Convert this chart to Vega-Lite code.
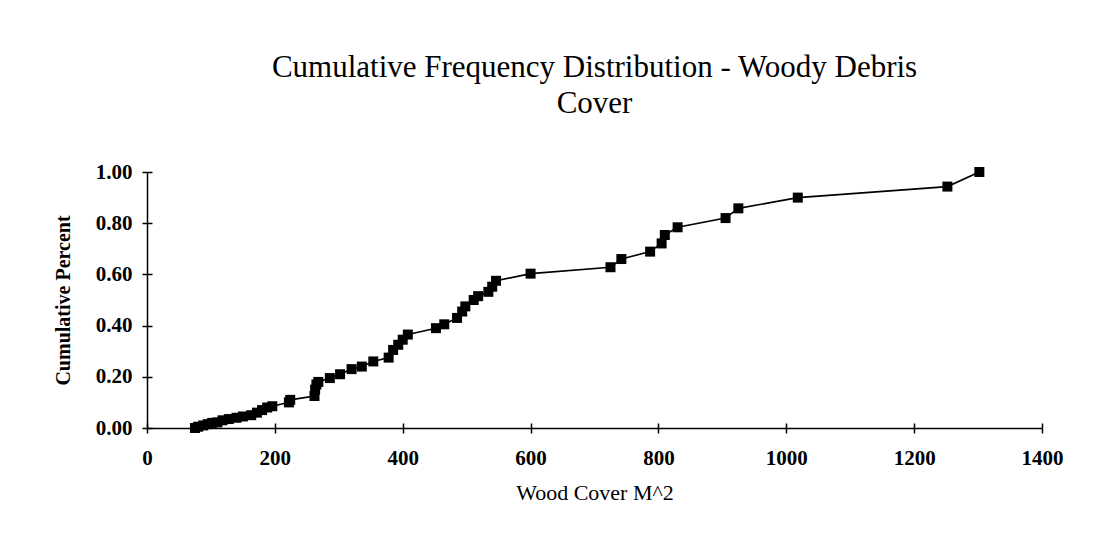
{
  "$schema": "https://vega.github.io/schema/vega-lite/v6.json",
  "width": 895,
  "height": 256,
  "autosize": {"type": "none"},
  "padding": {"left": 147, "top": 172, "right": 77, "bottom": 111},
  "background": "white",
  "title": {
    "text": ["Cumulative Frequency Distribution - Woody Debris", "Cover"],
    "font": "Liberation Serif",
    "fontSize": 31,
    "fontWeight": "normal",
    "color": "black",
    "anchor": "middle",
    "frame": "group",
    "lineHeight": 36,
    "offset": 41
  },
  "data": {
    "values": [
      {"cover": 75, "pct": 0.0},
      {"cover": 80, "pct": 0.005},
      {"cover": 88, "pct": 0.01},
      {"cover": 95, "pct": 0.015},
      {"cover": 102, "pct": 0.02},
      {"cover": 110, "pct": 0.022},
      {"cover": 118, "pct": 0.03},
      {"cover": 128, "pct": 0.035},
      {"cover": 140, "pct": 0.04},
      {"cover": 150, "pct": 0.045},
      {"cover": 163, "pct": 0.05},
      {"cover": 172, "pct": 0.06},
      {"cover": 180, "pct": 0.07},
      {"cover": 188, "pct": 0.08},
      {"cover": 196, "pct": 0.085},
      {"cover": 222, "pct": 0.1},
      {"cover": 224, "pct": 0.11},
      {"cover": 262, "pct": 0.125},
      {"cover": 263, "pct": 0.15},
      {"cover": 265, "pct": 0.17},
      {"cover": 268, "pct": 0.18},
      {"cover": 286, "pct": 0.195},
      {"cover": 302, "pct": 0.21},
      {"cover": 320, "pct": 0.23},
      {"cover": 336, "pct": 0.24},
      {"cover": 354, "pct": 0.26},
      {"cover": 378, "pct": 0.275},
      {"cover": 385, "pct": 0.305},
      {"cover": 393, "pct": 0.325},
      {"cover": 400, "pct": 0.345},
      {"cover": 408, "pct": 0.365},
      {"cover": 452, "pct": 0.39},
      {"cover": 465, "pct": 0.405},
      {"cover": 485, "pct": 0.43},
      {"cover": 493, "pct": 0.455},
      {"cover": 498, "pct": 0.475},
      {"cover": 511, "pct": 0.5},
      {"cover": 518, "pct": 0.515},
      {"cover": 534, "pct": 0.532},
      {"cover": 540, "pct": 0.552},
      {"cover": 546, "pct": 0.575},
      {"cover": 600, "pct": 0.603},
      {"cover": 725, "pct": 0.628},
      {"cover": 742, "pct": 0.66},
      {"cover": 787, "pct": 0.689},
      {"cover": 805, "pct": 0.721},
      {"cover": 810, "pct": 0.754},
      {"cover": 830, "pct": 0.784},
      {"cover": 905, "pct": 0.82},
      {"cover": 925, "pct": 0.858},
      {"cover": 1018, "pct": 0.9},
      {"cover": 1252, "pct": 0.943},
      {"cover": 1302, "pct": 1.0}
    ]
  },
  "layer": [
    {
      "mark": {"type": "line", "color": "black", "strokeWidth": 1.6},
      "encoding": {
        "x": {
          "field": "cover",
          "type": "quantitative",
          "scale": {"domain": [0, 1400], "nice": false},
          "axis": {
            "title": "Wood Cover M^2",
            "values": [0, 200, 400, 600, 800, 1000, 1200, 1400],
            "format": "d",
            "grid": false,
            "labelFont": "Liberation Serif",
            "labelFontSize": 21,
            "labelFontWeight": "bold",
            "labelColor": "black",
            "labelPadding": 14,
            "labelFlush": false,
            "labelOverlap": false,
            "tickSize": 5,
            "tickColor": "black",
            "tickWidth": 1.5,
            "domainColor": "black",
            "domainWidth": 1.5,
            "titleFont": "Liberation Serif",
            "titleFontSize": 22,
            "titleFontWeight": "normal",
            "titleColor": "black",
            "titlePadding": 14
          }
        },
        "y": {
          "field": "pct",
          "type": "quantitative",
          "scale": {"domain": [0, 1], "nice": false},
          "axis": {
            "title": "Cumulative Percent",
            "values": [0, 0.2, 0.4, 0.6, 0.8, 1.0],
            "format": ".2f",
            "grid": false,
            "labelFont": "Liberation Serif",
            "labelFontSize": 21,
            "labelFontWeight": "bold",
            "labelColor": "black",
            "labelPadding": 10,
            "labelOverlap": false,
            "labelFlush": false,
            "tickSize": 5,
            "tickColor": "black",
            "tickWidth": 1.5,
            "domainColor": "black",
            "domainWidth": 1.5,
            "titleFont": "Liberation Serif",
            "titleFontSize": 20,
            "titleFontWeight": "bold",
            "titleColor": "black",
            "titlePadding": 22
          }
        }
      }
    },
    {
      "mark": {"type": "square", "color": "black", "size": 100, "opacity": 1, "filled": true},
      "encoding": {
        "x": {
          "field": "cover",
          "type": "quantitative",
          "scale": {"domain": [0, 1400], "nice": false},
          "axis": {
            "orient": "bottom",
            "title": null,
            "labels": false,
            "domain": false,
            "grid": false,
            "values": [0, 200, 400, 600, 800, 1000, 1200, 1400],
            "tickSize": -5,
            "tickColor": "black",
            "tickWidth": 1.5
          }
        },
        "y": {
          "field": "pct",
          "type": "quantitative",
          "scale": {"domain": [0, 1], "nice": false},
          "axis": {
            "orient": "left",
            "title": null,
            "labels": false,
            "domain": false,
            "grid": false,
            "values": [0, 0.2, 0.4, 0.6, 0.8, 1.0],
            "tickSize": -5,
            "tickColor": "black",
            "tickWidth": 1.5
          }
        }
      }
    }
  ],
  "resolve": {"axis": {"x": "independent", "y": "independent"}},
  "config": {"view": {"stroke": null}}
}
